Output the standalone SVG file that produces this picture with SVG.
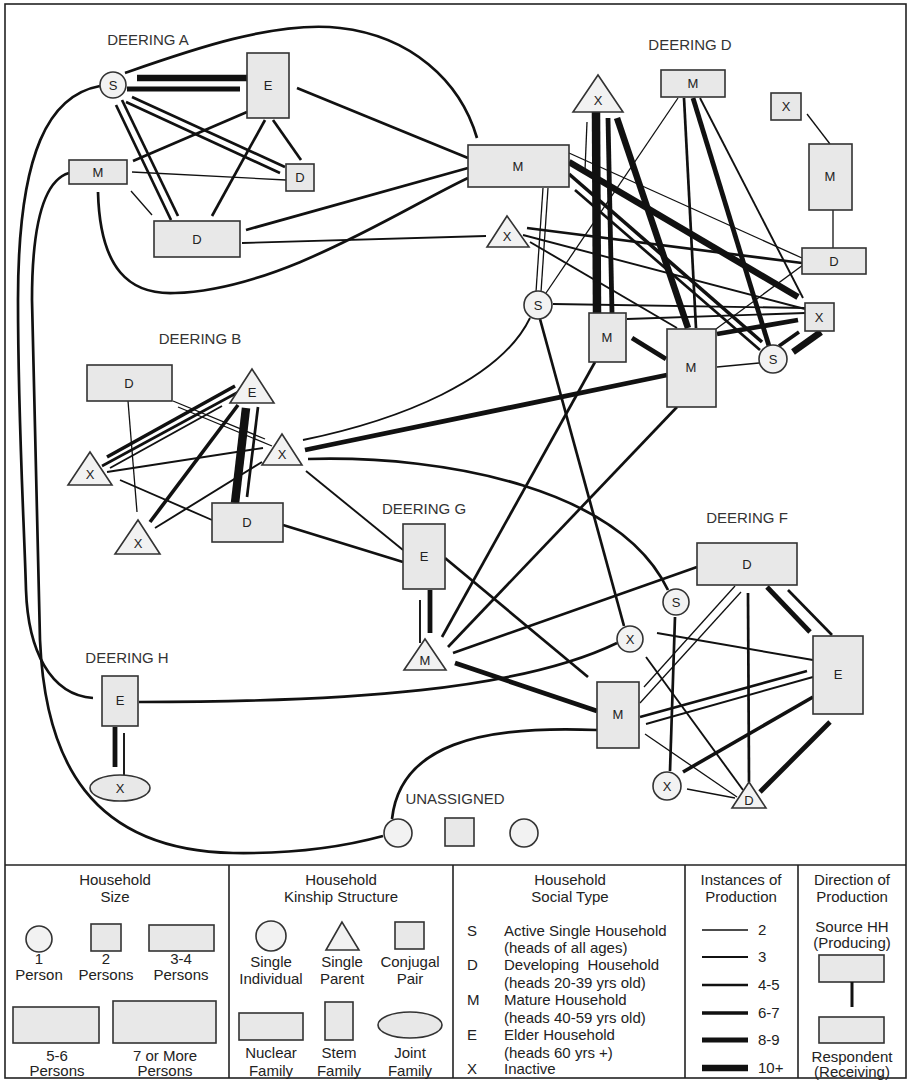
<svg xmlns="http://www.w3.org/2000/svg" width="909" height="1081" viewBox="0 0 909 1081">
<style>
.bg{fill:#fff}
.fr{fill:none;stroke:#222;stroke-width:1.6}
.n{fill:#e8e8e8;stroke:#333;stroke-width:1.6}
.c{fill:#f2f2f2;stroke:#333;stroke-width:1.6}
.t{font-family:"Liberation Sans",Arial,sans-serif;font-size:13px;fill:#222;text-anchor:middle}
.g{font-family:"Liberation Sans",Arial,sans-serif;font-size:15px;fill:#333;text-anchor:middle}
.l{font-family:"Liberation Sans",Arial,sans-serif;font-size:15px;fill:#222}
.lc{text-anchor:middle}
#connectors line,#connectors path{stroke:#111;fill:none}
.w1{stroke-width:1.3}.w2{stroke-width:1.9}.w3{stroke-width:2.7}.w4{stroke-width:3.6}.w5{stroke-width:4.8}.w6{stroke-width:6.5}.w7{stroke-width:8.5}
</style>
<rect class="bg" x="0" y="0" width="909" height="1081"/>
<rect class="fr" x="5" y="4" width="901" height="1074"/>
<g id="labels">
<text class="g" x="148" y="45">DEERING A</text>
<text class="g" x="690" y="50">DEERING D</text>
<text class="g" x="200" y="344">DEERING B</text>
<text class="g" x="424" y="514">DEERING G</text>
<text class="g" x="747" y="523">DEERING F</text>
<text class="g" x="127" y="663">DEERING H</text>
<text class="g" x="455" y="804">UNASSIGNED</text>
</g>
<g id="connectors">
<!-- Deering A -->
<line class="w6" x1="137" y1="78" x2="247" y2="78"/>
<line class="w5" x1="127" y1="89" x2="240" y2="89"/>
<line class="w3" x1="132" y1="97" x2="285" y2="167"/>
<line class="w3" x1="126" y1="102" x2="280" y2="173"/>
<line class="w3" x1="116" y1="105" x2="171" y2="220"/>
<line class="w3" x1="122" y1="100" x2="178" y2="216"/>
<line class="w3" x1="247" y1="112" x2="133" y2="161"/>
<line class="w3" x1="265" y1="120" x2="212" y2="216"/>
<line class="w3" x1="273" y1="120" x2="301" y2="160"/>
<line class="w1" x1="132" y1="172" x2="286" y2="180"/>
<line class="w1" x1="131" y1="191" x2="152" y2="215"/>
<line class="w3" x1="297" y1="88" x2="468" y2="158"/>
<line class="w3" x1="246" y1="230" x2="468" y2="168"/>
<line class="w2" x1="242" y1="243" x2="486" y2="236"/>
<path class="w3" d="M125,73 C185,52 275,20 340,28 C410,36 460,80 477,138"/>
<path class="w3" d="M98,192 C100,270 130,295 175,293 C280,290 400,210 468,178"/>
<path class="w3" d="M100,86 C50,95 18,150 18,300 C18,420 24,520 26,590 C28,650 50,695 93,698"/>
<path class="w3" d="M69,173 C45,180 32,220 32,300 L40,640 C45,760 90,850 233,853 C300,854 350,845 383,836"/>
<!-- Deering H -->
<line class="w5" x1="115" y1="727" x2="115" y2="767"/>
<line class="w2" x1="124" y1="733" x2="124" y2="775"/>
<path class="w3" d="M139,702 C350,702 520,690 617,643"/>
<!-- Deering B -->
<line class="w1" x1="128" y1="401" x2="137" y2="512"/>
<line class="w1" x1="173" y1="401" x2="265" y2="439"/>
<line class="w1" x1="178" y1="407" x2="272" y2="446"/>
<line class="w4" x1="107" y1="457" x2="235" y2="386"/>
<line class="w3" x1="102" y1="466" x2="242" y2="390"/>
<line class="w2" x1="110" y1="468" x2="222" y2="406"/>
<line class="w2" x1="107" y1="472" x2="263" y2="448"/>
<line class="w2" x1="120" y1="480" x2="212" y2="520"/>
<line class="w4" x1="150" y1="522" x2="238" y2="405"/>
<line class="w2" x1="155" y1="528" x2="262" y2="462"/>
<line class="w7" x1="235" y1="503" x2="246" y2="408"/>
<line class="w3" x1="247" y1="497" x2="258" y2="407"/>
<line class="w3" x1="283" y1="525" x2="403" y2="562"/>
<line class="w2" x1="306" y1="471" x2="403" y2="550"/>
<path class="w2" d="M303,440 C400,420 500,380 530,318"/>
<line class="w5" x1="305" y1="450" x2="667" y2="375"/>
<path class="w3" d="M308,459 C450,455 620,490 668,590"/>
<!-- Deering G -->
<line class="w5" x1="430" y1="590" x2="430" y2="633"/>
<line class="w2" x1="420" y1="600" x2="420" y2="643"/>
<line class="w3" x1="445" y1="558" x2="588" y2="677"/>
<line class="w3" x1="595" y1="362" x2="442" y2="637"/>
<line class="w3" x1="677" y1="407" x2="448" y2="647"/>
<line class="w3" x1="453" y1="653" x2="697" y2="567"/>
<line class="w5" x1="455" y1="663" x2="597" y2="711"/>
<line class="w3" x1="540" y1="319" x2="624" y2="626"/>
<!-- Deering F -->
<line class="w5" x1="767" y1="587" x2="810" y2="632"/>
<line class="w3" x1="788" y1="590" x2="832" y2="635"/>
<line class="w1" x1="735" y1="586" x2="644" y2="687"/>
<line class="w1" x1="741" y1="592" x2="640" y2="703"/>
<line class="w3" x1="748" y1="593" x2="749" y2="782"/>
<line class="w3" x1="675" y1="617" x2="670" y2="771"/>
<line class="w2" x1="657" y1="633" x2="813" y2="660"/>
<line class="w2" x1="646" y1="657" x2="743" y2="790"/>
<line class="w3" x1="640" y1="717" x2="807" y2="671"/>
<line class="w2" x1="646" y1="724" x2="813" y2="677"/>
<line class="w1" x1="645" y1="734" x2="737" y2="797"/>
<line class="w4" x1="683" y1="772" x2="813" y2="697"/>
<line class="w5" x1="760" y1="792" x2="830" y2="722"/>
<line class="w1" x1="687" y1="789" x2="735" y2="798"/>
<path class="w3" d="M597,730 C480,725 400,745 392,819"/>
<!-- Deering D -->
<line class="w1" x1="807" y1="114" x2="830" y2="144"/>
<line class="w1" x1="833" y1="210" x2="833" y2="248"/>
<line class="w1" x1="587" y1="122" x2="585" y2="170"/>
<line class="w7" x1="596" y1="112" x2="597" y2="313"/>
<line class="w5" x1="608" y1="118" x2="612" y2="313"/>
<line class="w6" x1="617" y1="118" x2="688" y2="328"/>
<line class="w3" x1="684" y1="98" x2="696" y2="328"/>
<line class="w5" x1="693" y1="98" x2="769" y2="346"/>
<line class="w2" x1="700" y1="98" x2="803" y2="298"/>
<line class="w1" x1="678" y1="98" x2="546" y2="293"/>
<line class="w6" x1="569" y1="162" x2="798" y2="297"/>
<line class="w4" x1="569" y1="174" x2="762" y2="342"/>
<line class="w3" x1="575" y1="190" x2="760" y2="350"/>
<line class="w1" x1="569" y1="153" x2="802" y2="258"/>
<line class="w3" x1="527" y1="228" x2="802" y2="263"/>
<line class="w2" x1="523" y1="235" x2="805" y2="309"/>
<line class="w2" x1="530" y1="242" x2="677" y2="328"/>
<line class="w1" x1="543" y1="188" x2="536" y2="292"/>
<line class="w1" x1="548" y1="188" x2="541" y2="292"/>
<line class="w2" x1="553" y1="304" x2="805" y2="308"/>
<line class="w2" x1="627" y1="319" x2="805" y2="313"/>
<line class="w5" x1="632" y1="338" x2="666" y2="359"/>
<line class="w5" x1="717" y1="334" x2="798" y2="320"/>
<line class="w4" x1="779" y1="346" x2="799" y2="332"/>
<line class="w6" x1="793" y1="352" x2="821" y2="332"/>
<line class="w1" x1="717" y1="367" x2="759" y2="363"/>
<line class="w1" x1="803" y1="265" x2="716" y2="329"/>
</g>
<!-- Deering A nodes -->
<g id="a-s"><circle class="c" cx="113" cy="85" r="13"/><text class="t" x="113" y="90">S</text></g>
<g id="a-e"><rect class="n" x="247" y="53" width="42" height="65"/><text class="t" x="268" y="90">E</text></g>
<g id="a-m"><rect class="n" x="69" y="160" width="58" height="24"/><text class="t" x="98" y="177">M</text></g>
<g id="a-d1"><rect class="n" x="286" y="164" width="28" height="27"/><text class="t" x="300" y="182">D</text></g>
<g id="a-d2"><rect class="n" x="154" y="221" width="86" height="36"/><text class="t" x="197" y="244">D</text></g>
<!-- Deering D nodes -->
<g id="d-m1"><rect class="n" x="468" y="145" width="101" height="42"/><text class="t" x="518" y="171">M</text></g>
<g id="d-x1"><polygon class="c" points="598,75 573,112 623,112"/><text class="t" x="598" y="105">X</text></g>
<g id="d-m2"><rect class="n" x="661" y="70" width="64" height="27"/><text class="t" x="693" y="88">M</text></g>
<g id="d-x2"><rect class="n" x="771" y="93" width="30" height="27"/><text class="t" x="786" y="111">X</text></g>
<g id="d-m3"><rect class="n" x="809" y="144" width="43" height="66"/><text class="t" x="830" y="181">M</text></g>
<g id="d-d"><rect class="n" x="802" y="248" width="64" height="26"/><text class="t" x="834" y="266">D</text></g>
<g id="d-x3"><polygon class="c" points="507,216 487,247 529,247"/><text class="t" x="507" y="241">X</text></g>
<g id="d-s1"><circle class="c" cx="538" cy="305" r="14"/><text class="t" x="538" y="310">S</text></g>
<g id="d-m4"><rect class="n" x="589" y="313" width="37" height="49"/><text class="t" x="607" y="342">M</text></g>
<g id="d-m5"><rect class="n" x="667" y="329" width="49" height="78"/><text class="t" x="691" y="372">M</text></g>
<g id="d-x4"><rect class="n" x="805" y="303" width="29" height="28"/><text class="t" x="819" y="322">X</text></g>
<g id="d-s2"><circle class="c" cx="773" cy="359" r="14"/><text class="t" x="773" y="364">S</text></g>
<!-- Deering B nodes -->
<g id="b-d1"><rect class="n" x="87" y="365" width="85" height="36"/><text class="t" x="129" y="388">D</text></g>
<g id="b-e"><polygon class="c" points="252,369 230,403 274,403"/><text class="t" x="252" y="397">E</text></g>
<g id="b-x1"><polygon class="c" points="282,434 262,465 302,465"/><text class="t" x="282" y="459">X</text></g>
<g id="b-x2"><polygon class="c" points="90,452 68,485 112,485"/><text class="t" x="90" y="479">X</text></g>
<g id="b-x3"><polygon class="c" points="138,520 115,554 160,554"/><text class="t" x="138" y="548">X</text></g>
<g id="b-d2"><rect class="n" x="212" y="503" width="71" height="39"/><text class="t" x="247" y="527">D</text></g>
<!-- Deering G nodes -->
<g id="g-e"><rect class="n" x="403" y="524" width="42" height="65"/><text class="t" x="424" y="561">E</text></g>
<g id="g-m"><polygon class="c" points="425,639 404,670 446,670"/><text class="t" x="425" y="665">M</text></g>
<!-- Deering F nodes -->
<g id="f-d"><rect class="n" x="697" y="543" width="100" height="42"/><text class="t" x="747" y="569">D</text></g>
<g id="f-e"><rect class="n" x="813" y="636" width="50" height="78"/><text class="t" x="838" y="679">E</text></g>
<g id="f-s"><circle class="c" cx="676" cy="602" r="13"/><text class="t" x="676" y="607">S</text></g>
<g id="f-x1"><circle class="c" cx="630" cy="639" r="13"/><text class="t" x="630" y="644">X</text></g>
<g id="f-m"><rect class="n" x="597" y="682" width="42" height="66"/><text class="t" x="618" y="719">M</text></g>
<g id="f-x2"><circle class="c" cx="667" cy="786" r="14"/><text class="t" x="667" y="791">X</text></g>
<g id="f-d2"><polygon class="c" points="749,782 732,808 766,808"/><text class="t" x="749" y="805">D</text></g>
<!-- Deering H nodes -->
<g id="h-e"><rect class="n" x="102" y="676" width="36" height="50"/><text class="t" x="120" y="705">E</text></g>
<g id="h-x"><ellipse class="n" cx="120" cy="788" rx="30" ry="13"/><text class="t" x="120" y="793">X</text></g>
<!-- Unassigned -->
<g id="u-1"><circle class="c" cx="398" cy="833" r="14"/></g>
<g id="u-2"><rect class="n" x="445" y="818" width="29" height="28"/></g>
<g id="u-3"><circle class="c" cx="524" cy="833" r="14"/></g>
<!-- Legend -->
<g id="legend">
<line class="fr" x1="5" y1="865" x2="906" y2="865"/>
<line class="fr" x1="229" y1="865" x2="229" y2="1078"/>
<line class="fr" x1="453" y1="865" x2="453" y2="1078"/>
<line class="fr" x1="685" y1="865" x2="685" y2="1078"/>
<line class="fr" x1="798" y1="865" x2="798" y2="1078"/>
<text class="l lc" x="115" y="885">Household</text>
<text class="l lc" x="115" y="902">Size</text>
<circle class="c" cx="39" cy="939" r="13"/>
<rect class="n" x="91" y="924" width="30" height="27"/>
<rect class="n" x="149" y="925" width="65" height="26"/>
<text class="l lc" x="39" y="964">1</text><text class="l lc" x="39" y="980">Person</text>
<text class="l lc" x="106" y="964">2</text><text class="l lc" x="106" y="980">Persons</text>
<text class="l lc" x="181" y="964">3-4</text><text class="l lc" x="181" y="980">Persons</text>
<rect class="n" x="13" y="1007" width="86" height="36"/>
<rect class="n" x="113" y="1001" width="103" height="42"/>
<text class="l lc" x="57" y="1061">5-6</text><text class="l lc" x="57" y="1076">Persons</text>
<text class="l lc" x="165" y="1061">7 or More</text><text class="l lc" x="165" y="1076">Persons</text>
<text class="l lc" x="341" y="885">Household</text>
<text class="l lc" x="341" y="902">Kinship Structure</text>
<circle class="c" cx="271" cy="936" r="15"/>
<polygon class="c" points="342,922 326,950 359,950"/>
<rect class="n" x="395" y="922" width="29" height="27"/>
<text class="l lc" x="271" y="967">Single</text><text class="l lc" x="271" y="984">Individual</text>
<text class="l lc" x="342" y="967">Single</text><text class="l lc" x="342" y="984">Parent</text>
<text class="l lc" x="410" y="967">Conjugal</text><text class="l lc" x="410" y="984">Pair</text>
<rect class="n" x="239" y="1013" width="64" height="27"/>
<rect class="n" x="325" y="1002" width="28" height="38"/>
<ellipse class="n" cx="410" cy="1025" rx="32" ry="13"/>
<text class="l lc" x="271" y="1058">Nuclear</text><text class="l lc" x="271" y="1076">Family</text>
<text class="l lc" x="339" y="1058">Stem</text><text class="l lc" x="339" y="1076">Family</text>
<text class="l lc" x="410" y="1058">Joint</text><text class="l lc" x="410" y="1076">Family</text>
<text class="l lc" x="570" y="885">Household</text>
<text class="l lc" x="570" y="902">Social Type</text>
<text class="l" x="467" y="936">S</text><text class="l" x="504" y="936">Active Single Household</text>
<text class="l" x="504" y="953">(heads of all ages)</text>
<text class="l" x="467" y="970">D</text><text class="l" x="504" y="970">Developing&#160; Household</text>
<text class="l" x="504" y="988">(heads 20-39 yrs old)</text>
<text class="l" x="467" y="1005">M</text><text class="l" x="504" y="1005">Mature Household</text>
<text class="l" x="504" y="1023">(heads 40-59 yrs old)</text>
<text class="l" x="467" y="1040">E</text><text class="l" x="504" y="1040">Elder Household</text>
<text class="l" x="504" y="1058">(heads 60 yrs +)</text>
<text class="l" x="467" y="1074">X</text><text class="l" x="504" y="1074">Inactive</text>
<text class="l lc" x="741" y="885">Instances of</text>
<text class="l lc" x="741" y="902">Production</text>
<line stroke="#111" stroke-width="1.3" x1="702" y1="930" x2="748" y2="930"/>
<line stroke="#111" stroke-width="1.9" x1="702" y1="957" x2="748" y2="957"/>
<line stroke="#111" stroke-width="2.7" x1="702" y1="985" x2="748" y2="985"/>
<line stroke="#111" stroke-width="3.6" x1="702" y1="1013" x2="748" y2="1013"/>
<line stroke="#111" stroke-width="4.8" x1="702" y1="1040" x2="748" y2="1040"/>
<line stroke="#111" stroke-width="6.5" x1="702" y1="1068" x2="748" y2="1068"/>
<text class="l" x="758" y="935">2</text>
<text class="l" x="758" y="962">3</text>
<text class="l" x="758" y="990">4-5</text>
<text class="l" x="758" y="1018">6-7</text>
<text class="l" x="758" y="1045">8-9</text>
<text class="l" x="758" y="1073">10+</text>
<text class="l lc" x="852" y="885">Direction of</text>
<text class="l lc" x="852" y="902">Production</text>
<text class="l lc" x="852" y="932">Source HH</text>
<text class="l lc" x="852" y="948">(Producing)</text>
<rect class="n" x="819" y="955" width="65" height="27"/>
<line stroke="#111" stroke-width="3" x1="852" y1="982" x2="852" y2="1007"/>
<rect class="n" x="819" y="1017" width="65" height="26"/>
<text class="l lc" x="852" y="1062">Respondent</text>
<text class="l lc" x="852" y="1077">(Receiving)</text>
</g>
</svg>
